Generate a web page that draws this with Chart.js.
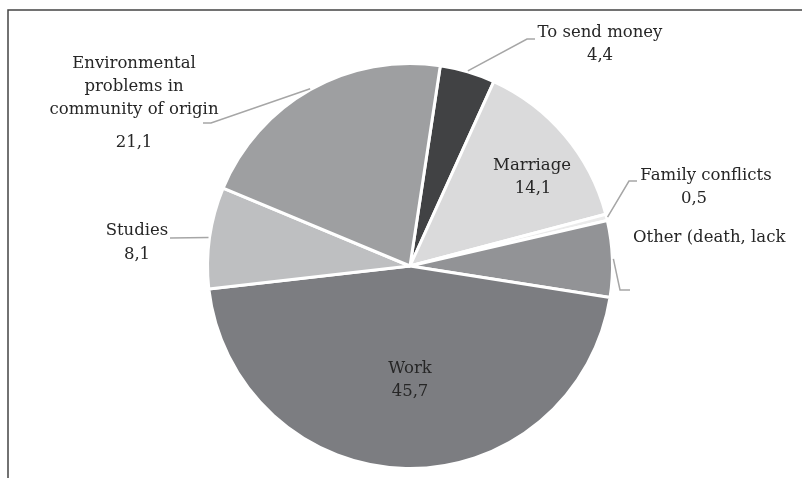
<!DOCTYPE html>
<html>
<head>
<meta charset="utf-8">
<script src="https://cdn.jsdelivr.net/npm/chart.js@4.4.1/dist/chart.umd.min.js"></script>
<style>
  html, body { margin: 0; padding: 0; background: #ffffff; }
  #wrap { position: relative; width: 802px; height: 478px; }
</style>
</head>
<body>
<div id="wrap"><canvas id="pie" width="802" height="478"></canvas></div>
<script>
// Reasons for migration (%)
const categories = [
  'To send money',
  'Marriage',
  'Family conflicts',
  'Other (death, lack',
  'Work',
  'Studies',
  'Environmental problems in community of origin'
];
const values = [4.4, 14.1, 0.5, 6.1, 45.7, 8.1, 21.1];
const sliceColors = ['#414244', '#dadadb', '#ebebeb', '#929396', '#7c7d81', '#bebfc1', '#9e9fa1'];

// Text lines of each slice label (as printed)
const labelLines = [
  ['To send money'],
  ['Marriage'],
  ['Family conflicts'],
  ['Other (death, lack'],
  ['Work'],
  ['Studies'],
  ['Environmental', 'problems in', 'community of origin']
];
// Whether the value is printed under the label
const showValue = [true, true, true, false, true, true, true];

// Label placement: text anchor, value anchor, and leader-line bend points
const labelLayout = [
  { x: 600, y: 33, align: 'center', vx: 600, vy: 56, leader: [[527, 39], [535, 39]] },
  { x: 532, y: 166, align: 'center', vx: 533, vy: 189, leader: null },
  { x: 706, y: 176, align: 'center', vx: 694, vy: 199, leader: [[629, 181], [637, 181]] },
  { x: 633, y: 238, align: 'left', vx: null, vy: null, leader: [[620, 290], [630, 290]] },
  { x: 410, y: 369, align: 'center', vx: 410, vy: 392, leader: null },
  { x: 137, y: 231, align: 'center', vx: 137, vy: 255, leader: [[170, 238]] },
  { x: 134, y: 64, align: 'center', vx: 134, vy: 143, leader: [[211, 123], [203, 123]] }
];

const LINE_H = 23;
const FONT = '16.5px "DejaVu Serif", serif';

function fmt(v) { return v.toFixed(1).replace('.', ','); }

const labelPlugin = {
  id: 'sliceLabels',
  afterDraw(chart) {
    const ctx = chart.ctx;
    const meta = chart.getDatasetMeta(0);

    // outer frame (top and left rules)
    ctx.save();
    ctx.strokeStyle = '#444444';
    ctx.lineWidth = 1.5;
    ctx.beginPath();
    ctx.moveTo(8, 478);
    ctx.lineTo(8, 10);
    ctx.lineTo(802, 10);
    ctx.stroke();
    ctx.restore();

    meta.data.forEach((arc, i) => {
      const lay = labelLayout[i];
      const p = arc.getProps(['x', 'y', 'startAngle', 'endAngle', 'outerRadius'], true);
      const mid = (p.startAngle + p.endAngle) / 2;

      // leader line from the slice edge to the label
      if (lay.leader) {
        const r = p.outerRadius + 1;
        ctx.save();
        ctx.strokeStyle = '#a6a6a6';
        ctx.lineWidth = 1.5;
        ctx.beginPath();
        ctx.moveTo(p.x + Math.cos(mid) * r, p.y + Math.sin(mid) * r);
        lay.leader.forEach(pt => ctx.lineTo(pt[0], pt[1]));
        ctx.stroke();
        ctx.restore();
      }

      ctx.save();
      ctx.font = FONT;
      ctx.fillStyle = '#262626';
      ctx.textBaseline = 'middle';
      ctx.textAlign = lay.align;
      labelLines[i].forEach((line, k) => {
        ctx.fillText(line, lay.x, lay.y + k * LINE_H);
      });
      if (showValue[i]) {
        ctx.textAlign = 'center';
        ctx.fillText(fmt(values[i]), lay.vx, lay.vy);
      }
      ctx.restore();
    });
  }
};

new Chart(document.getElementById('pie'), {
  type: 'pie',
  data: {
    labels: categories,
    datasets: [{
      data: values,
      backgroundColor: sliceColors,
      borderColor: '#ffffff',
      borderWidth: 3,
      hoverBorderWidth: 3,
      hoverOffset: 0
    }]
  },
  options: {
    responsive: false,
    animation: false,
    rotation: 8.6,
    layout: { padding: { left: 206, top: 62, right: 188, bottom: 8 } },
    plugins: {
      legend: { display: false },
      tooltip: { enabled: false }
    },
    events: []
  },
  plugins: [labelPlugin]
});
</script>
</body>
</html>
